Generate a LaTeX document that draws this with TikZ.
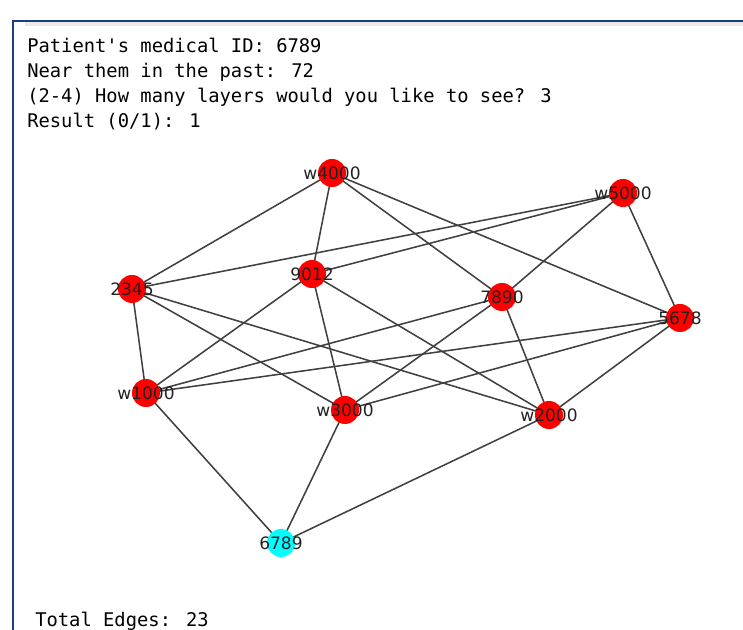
\documentclass[tikz,border=0pt]{standalone}
\usepackage{fontspec}
\setmainfont{DejaVu Sans}
\newfontfamily\monofont{DejaVu Sans Mono}
\definecolor{framenavy}{HTML}{1B3C7E}
\definecolor{stripgray}{HTML}{EAEAEA}
\definecolor{edgegray}{HTML}{404040}
\definecolor{labelgray}{HTML}{222222}
\definecolor{nodered}{HTML}{FF0000}
\definecolor{nodecyan}{HTML}{00FFFF}
\begin{document}
\begin{tikzpicture}[x=0.75pt,y=-0.75pt,
  outtext/.style={anchor=base west,inner sep=0pt,font=\monofont\fontsize{14.1pt}{17pt}\selectfont,text=black},
  vertex/.style={circle,fill=nodered,minimum size=21pt,inner sep=0pt},
  source/.style={vertex,fill=nodecyan},
  vlabel/.style={inner sep=0pt,font=\fontsize{12.8pt}{14pt}\selectfont,text=labelgray},
  link/.style={draw=edgegray,line width=1.15pt}]
\useasboundingbox (0,0) rectangle (743,630);
\fill[white] (0,0) rectangle (743,630);
% cell frame
\fill[stripgray] (25,22) rectangle (743,26);
\draw[framenavy,line width=1.5pt] (13,630) -- (13,21) -- (743,21);
% printed output
\node[outtext] (l1) at (27,53) {Patient's medical ID: 6789};
\node[outtext] (l2) at (27,78) {Near them in the past: 72};
\node[outtext] (l3) at (27,103) {(2-4) How many layers would you like to see? 3};
\node[outtext] (l4) at (27,128) {Result (0/1): 1};
\node[outtext] (tot) at (35,627) {Total Edges: 23};
% graph vertices
\coordinate (w4000) at (332,173);
\coordinate (w5000) at (623,193);
\coordinate (n2345) at (132,289);
\coordinate (n9012) at (312,274);
\coordinate (n7890) at (502,297);
\coordinate (n5678) at (680,318);
\coordinate (w1000) at (146,393);
\coordinate (w3000) at (345,410);
\coordinate (w2000) at (549,415);
\coordinate (n6789) at (281,543);
% edges
\foreach \a/\b in {w4000/n2345,w4000/n9012,w4000/n7890,w4000/n5678,
  w5000/n2345,w5000/n9012,w5000/n7890,w5000/n5678,
  n2345/w1000,n2345/w3000,n2345/w2000,
  n9012/w1000,n9012/w3000,n9012/w2000,
  n7890/w1000,n7890/w3000,n7890/w2000,
  n5678/w1000,n5678/w3000,n5678/w2000,
  w1000/n6789,w3000/n6789,w2000/n6789}
  \draw[link] (\a) -- (\b);
% vertex discs and labels
\foreach \n/\t in {w4000/w4000,w5000/w5000,n2345/2345,n9012/9012,n7890/7890,
  n5678/5678,w1000/w1000,w3000/w3000,w2000/w2000}{
  \node[vertex] (d\n) at (\n) {};
  \node[vlabel] (t\n) at (\n) {\t};
}
\node[source] (dn6789) at (n6789) {};
\node[vlabel] (tn6789) at (n6789) {6789};
\end{tikzpicture}
\end{document}
